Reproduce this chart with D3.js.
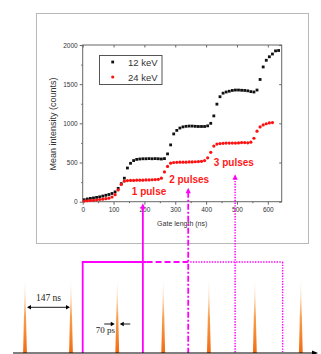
<!DOCTYPE html>
<html>
<head>
<meta charset="utf-8">
<script src="https://cdn.jsdelivr.net/npm/d3@7"></script>
<style>
  body { margin: 0; background: #fff; }
  svg { display: block; }
</style>
</head>
<body>
<div id="chart"></div>
<script>
// gate length (ns) of each sample
var gate12 = d3.range(5, 640, 10);
var gate24 = d3.range(5, 620, 10);

// mean intensity (counts), 12 keV
var counts12 = [25, 35, 42, 48, 55, 62, 72, 82, 92, 105,
    125, 170, 230, 300, 430, 490, 525, 540, 545, 548,
    548, 550, 548, 550, 548, 545, 550, 610, 725, 865,
    910, 940, 955, 962, 965, 965, 962, 960, 960, 960,
    968, 1000, 1095, 1245, 1340, 1385, 1400, 1410, 1420, 1425,
    1425, 1422, 1420, 1415, 1405, 1400, 1425, 1560, 1720, 1805,
    1850, 1885, 1925, 1930];

// mean intensity (counts), 24 keV
var counts24 = [8, 12, 15, 18, 22, 28, 32, 38, 45, 60,
    90, 150, 220, 262, 270, 272, 272, 275, 275, 275,
    278, 278, 280, 282, 285, 300, 380, 450, 492, 500,
    502, 505, 505, 505, 508, 508, 510, 512, 515, 525,
    560, 630, 710, 735, 742, 745, 748, 748, 748, 748,
    750, 755, 755, 752, 760, 810, 900, 955, 980, 995,
    1005, 1010];

var xTicks = [0, 100, 200, 300, 400, 500, 600];
var yTicks = [0, 500, 1000, 1500, 2000];

// annotations: label, label position (ns, counts), arrow gate (ns), arrow tip (counts)
var pulseLabels = ["1 pulse", "2 pulses", "3 pulses"];
var labelAt = [[215, 85], [345, 245], [490, 455]];
var arrowGate = [195, 342, 494];
var arrowTip = [-20, 179, 351];
var gateSolidEnd = 207, gateEnd = 648;

// laser pulse times on the same time axis (ns)
var pulseTimes = [-187, -38, 112, 261, 409, 558, 707];

var W = 321, H = 354;
var svg = d3.select("#chart").append("svg")
    .attr("width", W)
    .attr("height", H);

var defs = svg.append("defs");
var grad = defs.append("linearGradient")
    .attr("id", "pulseGrad")
    .attr("x1", 0).attr("y1", 1).attr("x2", 0).attr("y2", 0);
grad.append("stop").attr("offset", "0%").attr("stop-color", "#f26a10").attr("stop-opacity", 1);
grad.append("stop").attr("offset", "45%").attr("stop-color", "#f7943a").attr("stop-opacity", 0.9);
grad.append("stop").attr("offset", "100%").attr("stop-color", "#fde0c4").attr("stop-opacity", 0);

// outer frame of the inset figure
svg.append("rect")
    .attr("x", 36.5).attr("y", 13.5)
    .attr("width", 272).attr("height", 230)
    .attr("fill", "none")
    .attr("stroke", "#b8b8b8")
    .attr("stroke-width", 1);

var x = d3.scaleLinear().domain([0, 645]).range([82.7, 281.7]);
var y = d3.scaleLinear().domain([0, 2000]).range([201.7, 45]);

var plot = svg.append("g");

// ticks on all four sides
plot.append("g")
    .attr("transform", "translate(0," + y(0) + ")")
    .call(d3.axisBottom(x).tickValues(d3.range(50, 645, 100)).tickSize(1.5).tickFormat(""));
plot.append("g")
    .attr("transform", "translate(0," + y(0) + ")")
    .call(d3.axisBottom(x).tickValues(xTicks).tickSize(3).tickPadding(3).tickFormat(d3.format("d")))
    .selectAll("text")
    .style("font-size", "6.5px");
plot.append("g")
    .attr("transform", "translate(" + x.range()[0] + ",0)")
    .call(d3.axisLeft(y).tickValues([250, 750, 1250, 1750]).tickSize(1.5).tickFormat(""));
plot.append("g")
    .attr("transform", "translate(" + x.range()[0] + ",0)")
    .call(d3.axisLeft(y).tickValues(yTicks).tickSize(3).tickPadding(2).tickFormat(d3.format("d")))
    .selectAll("text")
    .style("font-size", "6.5px");
plot.append("g")
    .attr("transform", "translate(0," + y(2000) + ")")
    .call(d3.axisBottom(x).tickValues(xTicks).tickSize(2.5).tickFormat(""));
plot.append("g")
    .attr("transform", "translate(" + x.range()[1] + ",0)")
    .call(d3.axisLeft(y).tickValues(yTicks).tickSize(2.5).tickFormat(""));

plot.selectAll(".domain").remove();
plot.selectAll("line").attr("stroke", "#666");
plot.selectAll("text")
    .attr("fill", "#333")
    .style("font-family", "Liberation Sans, Arial, sans-serif");

plot.append("rect")
    .attr("x", x.range()[0]).attr("y", y(2000))
    .attr("width", x.range()[1] - x.range()[0])
    .attr("height", y(0) - y(2000))
    .attr("fill", "none")
    .attr("stroke", "#666")
    .attr("stroke-width", 1);

svg.append("text")
    .attr("x", (x.range()[0] + x.range()[1]) / 2)
    .attr("y", 226)
    .attr("text-anchor", "middle")
    .style("font-family", "Liberation Sans, Arial, sans-serif")
    .style("font-size", "7px")
    .attr("fill", "#333")
    .text("Gate length (ns)");

svg.append("text")
    .attr("transform", "translate(56,124) rotate(-90)")
    .attr("text-anchor", "middle")
    .style("font-family", "Liberation Sans, Arial, sans-serif")
    .style("font-size", "9px")
    .attr("fill", "#333")
    .text("Mean intensity (counts)");

// gate window and arrows below the chart
var baseY = 353;
var gateY = 262;
var magenta = "#ff00ff";
var gate = svg.append("g")
    .attr("stroke", magenta)
    .attr("fill", "none")
    .attr("stroke-width", 1.8);

gate.append("line")
    .attr("x1", x(0)).attr("x2", x(0))
    .attr("y1", gateY).attr("y2", baseY);
gate.append("line")
    .attr("x1", x(0) - 0.9).attr("x2", x(gateSolidEnd))
    .attr("y1", gateY).attr("y2", gateY);
gate.append("line")
    .attr("x1", x(gateSolidEnd)).attr("x2", x(arrowGate[1]))
    .attr("y1", gateY).attr("y2", gateY)
    .attr("stroke-dasharray", "6,3");
gate.append("line")
    .attr("x1", x(arrowGate[1]) + 2).attr("x2", x(gateEnd))
    .attr("y1", gateY).attr("y2", gateY)
    .attr("stroke-width", 1.4)
    .attr("stroke-dasharray", "1.4,1.3");
gate.append("line")
    .attr("x1", x(gateEnd)).attr("x2", x(gateEnd))
    .attr("y1", gateY).attr("y2", baseY - 1)
    .attr("stroke-width", 1.4)
    .attr("stroke-dasharray", "1.4,1.3");

var arrowDash = [null, "6,2,2,2", "1.4,1.3"];
arrowGate.forEach(function (g, i) {
    var ax = x(g), tip = y(arrowTip[i]);
    gate.append("line")
        .attr("x1", ax).attr("x2", ax)
        .attr("y1", tip + 4).attr("y2", baseY)
        .attr("stroke-width", i == 2 ? 1.5 : 1.8)
        .attr("stroke-dasharray", arrowDash[i]);
    svg.append("path")
        .attr("d", "M" + ax + "," + tip + "L" + (ax - 2.6) + "," + (tip + 5.5) +
            "L" + (ax + 2.6) + "," + (tip + 5.5) + "Z")
        .attr("fill", magenta);
});

// laser pulses
var t = d3.scaleLinear().domain([0, 645]).range([82.7, 281.7]);
svg.selectAll(".pulse")
    .data(pulseTimes)
    .enter().append("path")
    .attr("class", "pulse")
    .attr("d", function (d) {
        var px = t(d);
        return "M" + (px - 1.9) + "," + baseY + "L" + px + ",273L" + (px + 1.9) + "," + baseY + "Z";
    })
    .attr("fill", "url(#pulseGrad)");

// time axis
svg.append("line")
    .attr("x1", 13).attr("x2", 315)
    .attr("y1", baseY).attr("y2", baseY)
    .attr("stroke", "#000").attr("stroke-width", 1.2);
svg.append("path")
    .attr("d", "M318," + baseY + "L312," + (baseY - 2.5) + "L312," + (baseY + 2.5) + "Z")
    .attr("fill", "#000");

// 147 ns spacing
var sp = svg.append("g").attr("stroke", "#000").attr("stroke-width", 0.9);
var a0 = t(pulseTimes[0]) + 2, a1 = t(pulseTimes[1]) - 1;
var ay = 307.3;
sp.append("line").attr("x1", a0 + 3).attr("x2", a1 - 3).attr("y1", ay).attr("y2", ay);
svg.append("path")
    .attr("d", "M" + a0 + "," + ay + "L" + (a0 + 4) + "," + (ay - 2.2) + "L" + (a0 + 4) + "," + (ay + 2.2) + "Z" +
        "M" + a1 + "," + ay + "L" + (a1 - 4) + "," + (ay - 2.2) + "L" + (a1 - 4) + "," + (ay + 2.2) + "Z")
    .attr("fill", "#000");
svg.append("text")
    .attr("x", (a0 + a1) / 2).attr("y", 301)
    .attr("text-anchor", "middle")
    .style("font-family", "Liberation Serif, Times New Roman, serif")
    .style("font-size", "9.5px")
    .attr("fill", "#222")
    .text("147 ns");

// 70 ps width
var p2 = t(pulseTimes[2]);
var wy = 324;
sp.append("line").attr("x1", p2 - 13).attr("x2", p2 - 6).attr("y1", wy).attr("y2", wy);
sp.append("line").attr("x1", p2 + 13).attr("x2", p2 + 6).attr("y1", wy).attr("y2", wy);
svg.append("path")
    .attr("d", "M" + (p2 - 2.5) + "," + wy + "L" + (p2 - 6.5) + "," + (wy - 2.2) + "L" + (p2 - 6.5) + "," + (wy + 2.2) + "Z" +
        "M" + (p2 + 2.5) + "," + wy + "L" + (p2 + 6.5) + "," + (wy - 2.2) + "L" + (p2 + 6.5) + "," + (wy + 2.2) + "Z")
    .attr("fill", "#000");
svg.append("text")
    .attr("x", p2 - 21.5).attr("y", 333)
    .style("font-family", "Liberation Serif, Times New Roman, serif")
    .style("font-size", "9px")
    .attr("fill", "#222")
    .text("70 ps");

// data points
var d12 = gate12.map(function (g, i) { return {g: g, v: counts12[i]}; });
var d24 = gate24.map(function (g, i) { return {g: g, v: counts24[i]}; });

svg.append("g").selectAll("rect")
    .data(d12)
    .enter().append("rect")
    .attr("x", function (d) { return x(d.g) - 1.4; })
    .attr("y", function (d) { return y(d.v) - 1.4; })
    .attr("width", 2.8).attr("height", 2.8)
    .attr("fill", "#111");

svg.append("g").selectAll("circle")
    .data(d24)
    .enter().append("circle")
    .attr("cx", function (d) { return x(d.g); })
    .attr("cy", function (d) { return y(d.v); })
    .attr("r", 1.6)
    .attr("fill", "#ff1010");

// red annotations
svg.selectAll(".plabel")
    .data(pulseLabels)
    .enter().append("text")
    .attr("class", "plabel")
    .attr("x", function (d, i) { return x(labelAt[i][0]); })
    .attr("y", function (d, i) { return y(labelAt[i][1]); })
    .attr("text-anchor", "middle")
    .style("font-family", "Liberation Sans, Arial, sans-serif")
    .style("font-weight", "bold")
    .style("font-size", "10px")
    .attr("fill", "#ff1a1a")
    .text(function (d) { return d; });

// legend
var lg = svg.append("g");
lg.append("rect")
    .attr("x", 99.5).attr("y", 55.5)
    .attr("width", 62.5).attr("height", 29)
    .attr("fill", "#fff")
    .attr("stroke", "#555");
lg.append("rect")
    .attr("x", 111.3).attr("y", 60.6)
    .attr("width", 2.8).attr("height", 2.8)
    .attr("fill", "#111");
lg.append("circle")
    .attr("cx", 112.7).attr("cy", 77)
    .attr("r", 1.6)
    .attr("fill", "#ff1010");
lg.selectAll("text")
    .data(["12 keV", "24 keV"])
    .enter().append("text")
    .attr("x", 128)
    .attr("y", function (d, i) { return 65.5 + i * 15; })
    .style("font-family", "Liberation Sans, Arial, sans-serif")
    .style("font-size", "9.5px")
    .attr("fill", "#333")
    .text(function (d) { return d; });
</script>
</body>
</html>
